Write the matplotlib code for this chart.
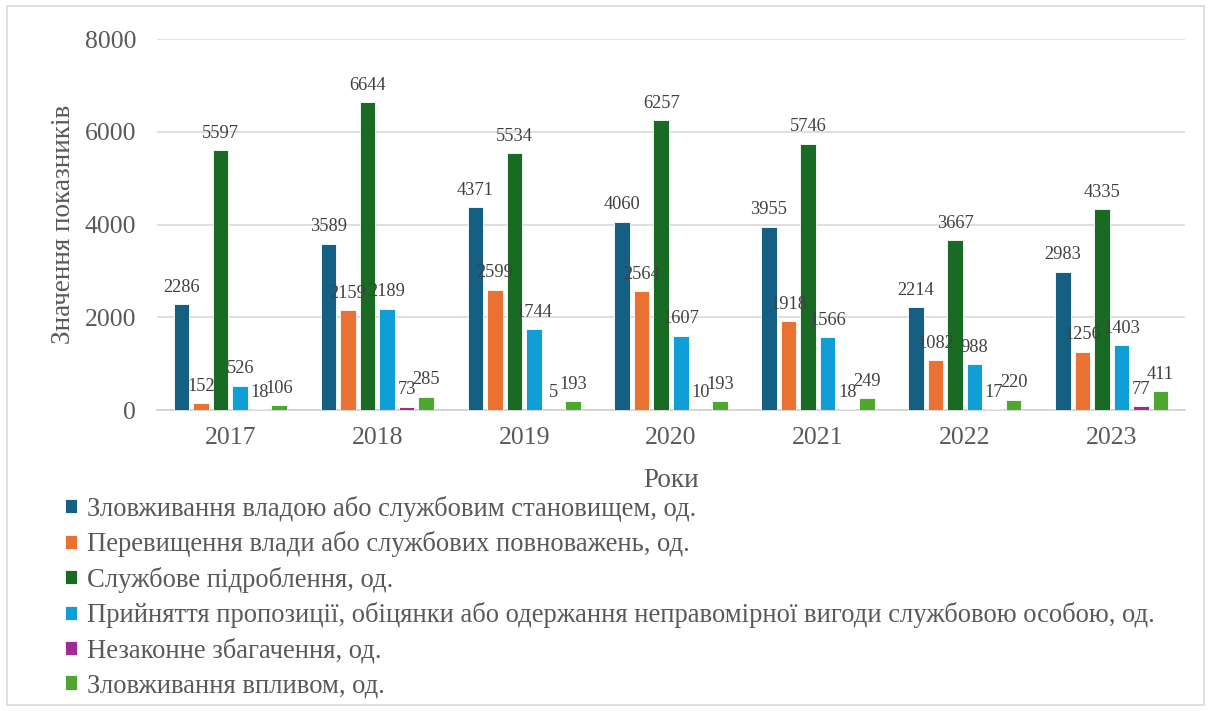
import matplotlib
matplotlib.use("Agg")
import matplotlib.pyplot as plt
import numpy as np
from matplotlib.patches import Rectangle

plt.rcParams['font.family'] = ['Liberation Serif', 'DejaVu Serif']

years = ['2017', '2018', '2019', '2020', '2021', '2022', '2023']
series_names = [
    'Зловживання владою або службовим становищем, од.',
    'Перевищення влади або службових повноважень, од.',
    'Службове підроблення, од.',
    'Прийняття пропозиції, обіцянки або одержання неправомірної вигоди службовою особою, од.',
    'Незаконне збагачення, од.',
    'Зловживання впливом, од.',
]
abuse_power = [2286, 3589, 4371, 4060, 3955, 2214, 2983]
excess_power = [152, 2159, 2599, 2564, 1918, 1082, 1256]
forgery = [5597, 6644, 5534, 6257, 5746, 3667, 4335]
bribery = [526, 2189, 1744, 1607, 1566, 988, 1403]
enrichment = [18, 73, 5, 10, 18, 17, 77]
influence = [106, 285, 193, 193, 249, 220, 411]
series = [abuse_power, excess_power, forgery, bribery, enrichment, influence]
colors = ['#156082', '#E97132', '#196B24', '#0F9ED5', '#A02B93', '#4EA72E']

TXT = '#595959'
fig = plt.figure(figsize=(12.11, 7.11), dpi=100)
fig.patches.append(Rectangle((0.006, 0.008), 0.988, 0.984, transform=fig.transFigure,
                             fill=False, edgecolor='#d9d9d9', linewidth=1.2))
ax = fig.add_axes([0.1296, 0.4233, 0.849, 0.5218])

x = np.arange(len(years))
step = 0.133
width = 0.106
handles = []
for i, (vals, c) in enumerate(zip(series, colors)):
    pos = x + (i - 2.5) * step
    bars = ax.bar(pos, vals, width=width, color=c, edgecolor='white', linewidth=0.6, zorder=3)
    handles.append(bars)
    for p, v in zip(pos, vals):
        ax.annotate(str(v), (p, v), xytext=(0, 6), textcoords='offset points',
                    ha='center', va='bottom', fontsize=13.2, color='#404040', zorder=4)

ax.set_xlim(-0.5, len(years) - 0.5)
ax.set_ylim(0, 8000)
ax.set_yticks([0, 2000, 4000, 6000, 8000])
ax.set_xticks(x)
ax.set_xticklabels(years)
ax.tick_params(axis='both', length=0, labelsize=18.5, labelcolor=TXT)
ax.tick_params(axis='y', pad=15)
ax.tick_params(axis='x', pad=12)
ax.grid(axis='y', color='#d9d9d9', linewidth=1.2, zorder=0)
for s in ['top', 'right', 'left']:
    ax.spines[s].set_visible(False)
ax.spines['bottom'].set_color('#d0d0d0')
ax.spines['bottom'].set_linewidth(1.2)
ax.set_ylabel('Значення показників', fontsize=19.5, color=TXT, labelpad=6)
ax.set_xlabel('Роки', fontsize=19.5, color=TXT, labelpad=14)

fig.legend(handles, series_names, loc='upper left', bbox_to_anchor=(0.054, 0.303),
           frameon=False, fontsize=19.2, labelcolor=TXT, handlelength=0.45, handleheight=0.45,
           handletextpad=0.35, labelspacing=0.36, borderaxespad=0, borderpad=0)

fig.savefig('out.png', dpi=100)
